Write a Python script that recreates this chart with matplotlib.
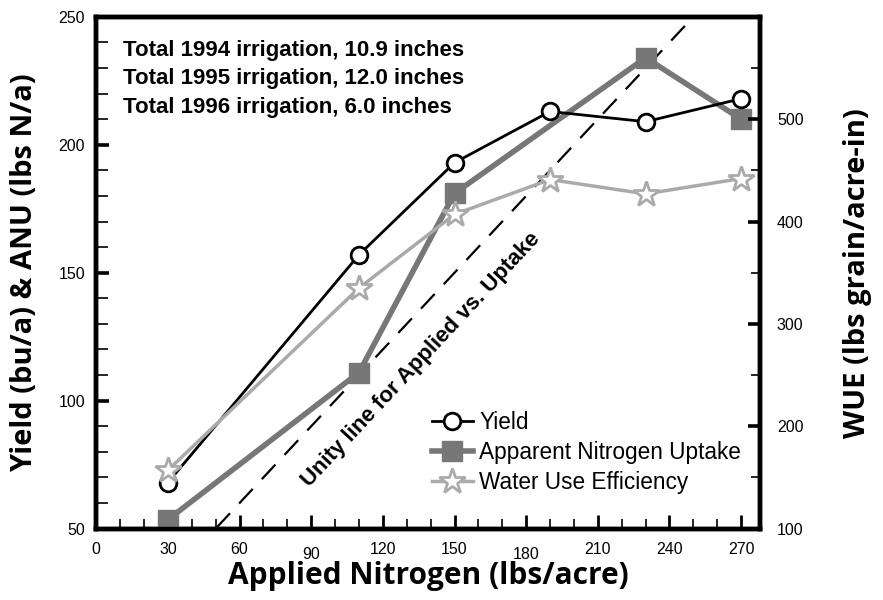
import matplotlib
matplotlib.use('Agg')
import matplotlib.pyplot as plt
from matplotlib.ticker import MultipleLocator, FixedLocator
from matplotlib import font_manager

# data
nitrogen = [30, 110, 150, 190, 230, 270]
yield_bu = [68, 157, 193, 213, 209, 218]
anu_n = [30, 110, 150, 230, 270]
anu = [53.5, 111, 181, 234, 210]
wue = [157, 335, 407, 441, 427, 442]
unity = [0, 280]
notes = ['Total 1994 irrigation, 10.9 inches',
         'Total 1995 irrigation, 12.0 inches',
         'Total 1996 irrigation, 6.0 inches']

names = {f.name for f in font_manager.fontManager.ttflist}
label_font = 'Liberation Sans Narrow' if 'Liberation Sans Narrow' in names else 'Open Sans'
plt.rcParams['font.family'] = ['Liberation Sans', 'DejaVu Sans']

fig = plt.figure(figsize=(8.83, 6), dpi=100)
ax = fig.add_axes([0.109, 0.119, 0.752, 0.853])
ax2 = ax.twinx()

# unity line y = x
ax.plot(unity, unity, color='black', lw=1.6, dashes=(9, 6), zorder=1)
l1, = ax.plot(nitrogen, yield_bu, color='black', lw=2, marker='o', ms=12,
              mfc='white', mec='black', mew=2, label='Yield', zorder=4)
l2, = ax.plot(anu_n, anu, color='#777777', lw=4, marker='s', ms=15,
              mfc='#777777', mec='#777777', label='Apparent Nitrogen Uptake', zorder=3)
l3, = ax2.plot(nitrogen, wue, color='#aaaaaa', lw=2.5, marker='*', ms=19,
               mfc='white', mec='#aaaaaa', mew=2, label='Water Use Efficiency', zorder=2)

ax.set_xlim(0, 278)
ax.set_ylim(50, 250)
ax2.set_ylim(100, 600)

ax.xaxis.set_major_locator(MultipleLocator(30))
ax.xaxis.set_minor_locator(MultipleLocator(10))
ax.yaxis.set_major_locator(MultipleLocator(50))
ax.yaxis.set_minor_locator(MultipleLocator(10))
ax2.yaxis.set_major_locator(FixedLocator([100, 200, 300, 400, 500]))
ax2.yaxis.set_minor_locator(MultipleLocator(50))

for a in (ax, ax2):
    for s in a.spines.values():
        s.set_linewidth(3.2)
    a.tick_params(which='major', direction='in', length=9.5, width=2.6, labelsize=11.5, pad=8)
    a.tick_params(which='minor', direction='in', length=8.5, width=1.2)
ax.tick_params(axis='x', which='major', width=2, length=10, pad=10)
ax.tick_params(axis='x', which='minor', length=7)
ax.tick_params(top=False, which='both')
ax2.tick_params(axis='y', which='major', length=8.5, pad=12)
ax2.tick_params(axis='y', which='minor', length=6.5)

for lab in ax.get_xticklabels():
    if lab.get_text() in ('90', '180'):
        lab.set_y(-0.008)

ax.set_xlabel('Applied Nitrogen (lbs/acre)', family=label_font, fontweight='bold',
              fontsize=21.5, va='center')
ax.xaxis.set_label_coords(0.5, -0.092)
ax.set_ylabel('Yield (bu/a) & ANU (lbs N/a)', family=label_font, fontweight='bold',
              fontsize=21, labelpad=14)
ax2.set_ylabel('WUE (lbs grain/acre-in)', family=label_font, fontweight='bold',
               fontsize=21, labelpad=28)

for i, t in enumerate(notes):
    ax.text(0.04, 0.935 - i * 0.056, t, transform=ax.transAxes, fontsize=16,
            fontweight='bold', va='center')

ax.text(136, 116, 'Unity line for Applied vs. Uptake', rotation=47, rotation_mode='anchor',
        ha='center', va='center', fontsize=16, fontweight='bold')

leg = ax.legend(handles=[l1, l2, l3], loc='lower right', bbox_to_anchor=(0.985, 0.05),
                frameon=False, fontsize=16.3, handlelength=1.8, handletextpad=0.3,
                labelspacing=0.3, borderaxespad=0)
leg.set_zorder(5)

fig.savefig('out.png', dpi=100)
